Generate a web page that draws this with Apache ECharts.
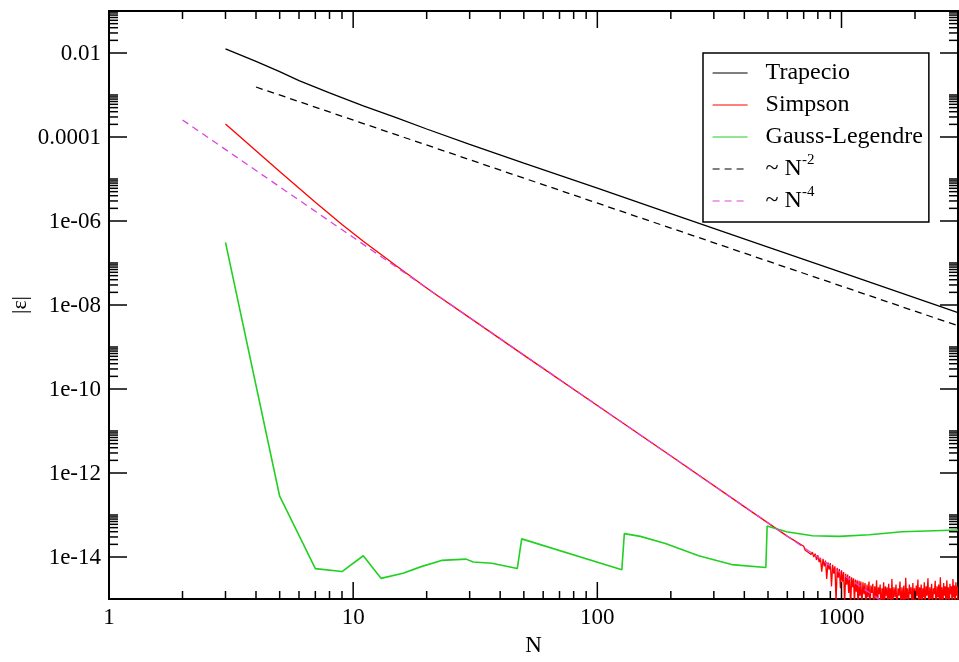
<!DOCTYPE html>
<html><head><meta charset="utf-8">
<script src="https://cdn.jsdelivr.net/npm/echarts@6.0.0/dist/echarts.min.js"></script>
<style>html,body{margin:0;padding:0;background:#fff;}#c{width:959px;height:662px;}</style>
</head><body><div id="c"></div>
<script>
const X_MIN = 1, X_MAX = 3000, Y_MIN = 1e-15, Y_MAX = 0.1;
const FONT = 'Liberation Serif';

// Trapecio (trapezoid rule) error
const trapN   = [3, 4, 5, 6, 8, 11, 15, 20, 30, 50, 100, 200, 500, 1000, 3000];
const trapErr = [1.26e-2, 6.3e-3, 3.6e-3, 2.2e-3, 1.12e-3, 5.5e-4, 2.9e-4, 1.55e-4, 6.7e-5, 2.4e-5, 6.1e-6, 1.5e-6, 2.4e-7, 6.0e-8, 6.6e-9];

// Simpson error (smooth part)
const simpN   = [3, 5, 7, 9, 11, 15, 21, 31, 51, 101, 201, 401, 601];
const simpErr = [2.04e-4, 1.5e-5, 2.8e-6, 8.3e-7, 3.3e-7, 8.6e-8, 2.07e-8, 4.36e-9, 5.9e-10, 3.9e-11, 2.5e-12, 1.56e-13, 3.1e-14];
// Simpson error (round-off noise tail) [N, error]
const simpTail = [
 [700,1.8e-14],[710,1.45e-14],[720,1.6e-14],[730,1.3e-14],[740,1.45e-14],[750,1.15e-14],[760,1.3e-14],[770,1.0e-14],
 [780,1.2e-14],[790,8.5e-15],[800,1.1e-14],[810,7.5e-15],[820,9.5e-15],[830,4.5e-15],[840,9.0e-15],[850,6.0e-15],
 [860,8.2e-15],[870,3.0e-15],[880,7.5e-15],[890,5.0e-15],[900,7.2e-15],[910,2.0e-15],[920,6.5e-15],[930,4.0e-15],
 [940,6.0e-15],[950,8e-16],[960,5.5e-15],[970,3.2e-15],[980,5.2e-15],[990,1.8e-15],[1000,4.8e-15],[1010,2.6e-15],
 [1020,4.4e-15],[1030,7e-16],[1040,4.0e-15],[1050,2.2e-15],[1060,3.8e-15],[1070,1.4e-15],[1080,3.5e-15],[1090,6e-16],
 [1100,3.3e-15],[1110,1.9e-15],[1120,3.1e-15],[1130,8e-16],[1140,2.9e-15],[1150,1.5e-15],[1160,2.8e-15],[1170,5e-16],
 [1180,2.7e-15],[1190,1.2e-15],[1200,2.6e-15],[1212,7e-16],[1224,2.5e-15],[1236,1.3e-15],[1248,2.4e-15],[1260,5e-16],
 [1272,2.2e-15],[1284,1.1e-15],[1296,2.6e-15],[1308,6e-16],[1320,2.1e-15],[1332,1.4e-15],[1344,2.3e-15],[1356,5e-16],
 [1368,2.0e-15],[1380,1.0e-15],[1392,2.8e-15],[1404,6e-16],[1416,1.9e-15],[1428,1.3e-15],[1440,2.2e-15],[1452,4e-16],
 [1464,1.8e-15],[1476,9e-16],[1488,2.5e-15],[1500,6e-16],[1512,2.0e-15],[1524,1.2e-15],[1536,1.9e-15],[1548,5e-16],
 [1560,2.3e-15],[1572,1.0e-15],[1584,1.8e-15],[1596,4e-16],[1608,3.0e-15],[1624,8e-16],[1640,1.9e-15],[1656,1.1e-15],
 [1672,2.2e-15],[1688,5e-16],[1704,1.8e-15],[1720,1.2e-15],[1736,2.6e-15],[1752,6e-16],[1768,1.9e-15],[1784,9e-16],
 [1800,2.1e-15],[1816,4e-16],[1832,3.2e-15],[1848,1.0e-15],[1864,1.8e-15],[1880,6e-16],[1896,2.2e-15],[1912,1.3e-15],
 [1928,1.9e-15],[1944,5e-16],[1960,2.4e-15],[1976,9e-16],[1992,1.8e-15],[2008,6e-16],[2024,2.1e-15],[2040,1.2e-15],
 [2056,2.9e-15],[2072,5e-16],[2088,1.9e-15],[2104,1.0e-15],[2120,2.2e-15],[2136,4e-16],[2152,1.8e-15],[2168,1.1e-15],
 [2184,2.5e-15],[2200,6e-16],[2220,2.0e-15],[2240,1.2e-15],[2260,3.1e-15],[2280,5e-16],[2300,1.9e-15],[2320,1.0e-15],
 [2340,2.3e-15],[2360,6e-16],[2380,1.8e-15],[2400,1.3e-15],[2420,2.7e-15],[2440,4e-16],[2460,2.0e-15],[2480,1.1e-15],
 [2500,2.2e-15],[2520,6e-16],[2540,3.3e-15],[2560,9e-16],[2580,1.9e-15],[2600,5e-16],[2620,2.4e-15],[2640,1.2e-15],
 [2660,2.0e-15],[2680,6e-16],[2700,2.8e-15],[2720,1.0e-15],[2740,1.9e-15],[2760,4e-16],[2780,2.3e-15],[2800,1.3e-15],
 [2820,2.0e-15],[2840,6e-16],[2860,3.0e-15],[2880,1.1e-15],[2900,2.1e-15],[2920,5e-16],[2940,2.5e-15],[2960,1.2e-15],
 [2980,2.0e-15],[3000,7e-16]
];

// Gauss-Legendre error
const gaussN   = [3, 5, 7, 9, 11, 13, 16, 19, 23, 29, 31, 37, 47, 49, 126, 129, 150, 190, 260, 355, 490, 496, 595, 760, 980, 1300, 1770, 3000];
const gaussErr = [3.1e-7, 2.8e-13, 5.3e-15, 4.5e-15, 1.07e-14, 3.1e-15, 4.1e-15, 5.9e-15, 8.3e-15, 8.9e-15, 7.6e-15, 7.1e-15, 5.3e-15, 2.7e-14, 5.0e-15, 3.6e-14, 3.1e-14, 2.1e-14, 1.07e-14, 6.6e-15, 5.6e-15, 5.5e-14, 4.0e-14, 3.2e-14, 3.1e-14, 3.4e-14, 4.0e-14, 4.4e-14];

// Reference power laws (end points)
const n2N   = [4, 3000];
const n2Val = [1.55e-3, 3.2e-9];
const n4N   = [2, 3000];
const n4Val = [2.55e-4, 5e-17];

// Tick values and labels
const xMajorTicks  = [1, 10, 100, 1000];
const xMajorLabels = ['1', '10', '100', '1000'];
const yMajorTicks  = [1e-14, 1e-12, 1e-10, 1e-8, 1e-6, 1e-4, 1e-2];
const yMajorLabels = ['1e-14', '1e-12', '1e-10', '1e-08', '1e-06', '0.0001', '0.01'];
const xMinorMult = [2, 3, 4, 5, 6, 7, 8, 9];
const yMinorMult = [2, 3, 4, 5, 6, 7, 8, 9, 10];

const legendNames = ['Trapecio', 'Simpson', 'Gauss-Legendre', '~ N^-2', '~ N^-4'];
const legendRich = { '~ N^-2': '{t|~ N}{s|-2}', '~ N^-4': '{t|~ N}{s|-4}' };

function zip(a, b) { return a.map((v, i) => [v, b[i]]); }

const xTickData = [];
xMajorTicks.forEach((m, i) => {
  xTickData.push([m, Y_MIN, 1, i]);
  xMinorMult.forEach(k => { if (m * k < X_MAX) xTickData.push([m * k, Y_MIN, 0, -1]); });
});
const yTickData = [];
yMajorTicks.forEach((m, i) => {
  yTickData.push([X_MIN, m, 1, i]);
  yMinorMult.forEach(k => { if (m * k <= Y_MAX) yTickData.push([X_MIN, m * k, 0, -1]); });
});

const tickStyle = { stroke: '#000', lineWidth: 1.5 };
function renderXTick(params, api) {
  const cs = params.coordSys;
  const major = api.value(2) === 1;
  const idx = api.value(3);
  const px = api.coord([api.value(0), Y_MIN])[0];
  const len = major ? 17 : 8;
  const bottom = cs.y + cs.height;
  const ch = [
    { type: 'line', shape: { x1: px, y1: bottom, x2: px, y2: bottom - len }, style: tickStyle },
    { type: 'line', shape: { x1: px, y1: cs.y, x2: px, y2: cs.y + len }, style: tickStyle }
  ];
  if (major) {
    ch.push({ type: 'text', x: px, y: bottom + 7,
      style: { text: xMajorLabels[idx], fill: '#000', fontSize: 23, fontFamily: FONT, align: 'center', verticalAlign: 'top' } });
  }
  return { type: 'group', children: ch };
}
function renderYTick(params, api) {
  const cs = params.coordSys;
  const major = api.value(2) === 1;
  const idx = api.value(3);
  const py = api.coord([X_MIN, api.value(1)])[1];
  const len = major ? 18 : 9;
  const right = cs.x + cs.width;
  const ch = [
    { type: 'line', shape: { x1: cs.x, y1: py, x2: cs.x + len, y2: py }, style: tickStyle },
    { type: 'line', shape: { x1: right, y1: py, x2: right - len, y2: py }, style: tickStyle }
  ];
  if (major) {
    ch.push({ type: 'text', x: cs.x - 8, y: py + 1,
      style: { text: yMajorLabels[idx], fill: '#000', fontSize: 23, fontFamily: FONT, align: 'right', verticalAlign: 'middle' } });
  }
  return { type: 'group', children: ch };
}

const chart = echarts.init(document.getElementById('c'), null, { renderer: 'canvas' });
chart.setOption({
  animation: false,
  backgroundColor: '#fff',
  grid: { left: 109, right: 1, top: 11, bottom: 58, show: true, borderColor: '#000', borderWidth: 2, backgroundColor: 'transparent' },
  xAxis: {
    type: 'log', logBase: 10, min: X_MIN, max: X_MAX,
    axisLine: { show: false }, axisTick: { show: false }, axisLabel: { show: false }, splitLine: { show: false },
    name: 'N', nameLocation: 'middle', nameGap: 35,
    nameTextStyle: { fontFamily: FONT, fontSize: 23, color: '#000' }
  },
  yAxis: {
    type: 'log', logBase: 10, min: Y_MIN, max: Y_MAX,
    axisLine: { show: false }, axisTick: { show: false }, axisLabel: { show: false }, splitLine: { show: false },
    name: '|ε|', nameLocation: 'middle', nameGap: 78,
    nameTextStyle: { fontFamily: FONT, fontSize: 22, color: '#000' }
  },
  legend: {
    data: legendNames, orient: 'vertical', left: 703, top: 53,
    padding: [4, 6, 5, 9], itemGap: 0, itemWidth: 35, itemHeight: 14,
    backgroundColor: '#fff', borderColor: '#000', borderWidth: 1.5, borderRadius: 0,
    selectedMode: false,
    itemStyle: { opacity: 0, borderWidth: 0 },
    lineStyle: { width: 1.2 },
    formatter: name => legendRich[name] || name,
    textStyle: {
      fontFamily: FONT, fontSize: 24, color: '#000', lineHeight: 32, padding: [0, 0, 0, 13],
      rich: {
        t: { fontFamily: FONT, fontSize: 24, color: '#000', lineHeight: 32 },
        s: { fontFamily: FONT, fontSize: 15, color: '#000', lineHeight: 2, verticalAlign: 'top' }
      }
    }
  },
  series: [
    { name: 'Trapecio', type: 'line', data: zip(trapN, trapErr), symbol: 'none', color: '#000',
      lineStyle: { color: '#000', width: 1.3 }, z: 3 },
    { name: 'Simpson', type: 'line', data: zip(simpN, simpErr).concat(simpTail), symbol: 'none', color: '#ff0000',
      lineStyle: { color: '#ff0000', width: 1.3 }, z: 3 },
    { name: 'Gauss-Legendre', type: 'line', data: zip(gaussN, gaussErr), symbol: 'none', color: '#22d022',
      lineStyle: { color: '#22d022', width: 1.6 }, z: 3 },
    { name: '~ N^-2', type: 'line', data: zip(n2N, n2Val), symbol: 'none', color: '#000',
      lineStyle: { color: '#000', width: 1.3, type: [7, 5] }, z: 3 },
    { name: '~ N^-4', type: 'line', data: zip(n4N, n4Val), symbol: 'none', color: '#dd44dd',
      lineStyle: { color: '#dd44dd', width: 1.3, type: [7, 5] }, z: 3 },
    { type: 'custom', renderItem: renderXTick, data: xTickData, clip: false, silent: true, z: 6,
      encode: { x: 0, y: 1 } },
    { type: 'custom', renderItem: renderYTick, data: yTickData, clip: false, silent: true, z: 6,
      encode: { x: 0, y: 1 } }
  ]
});
</script>
</body></html>
